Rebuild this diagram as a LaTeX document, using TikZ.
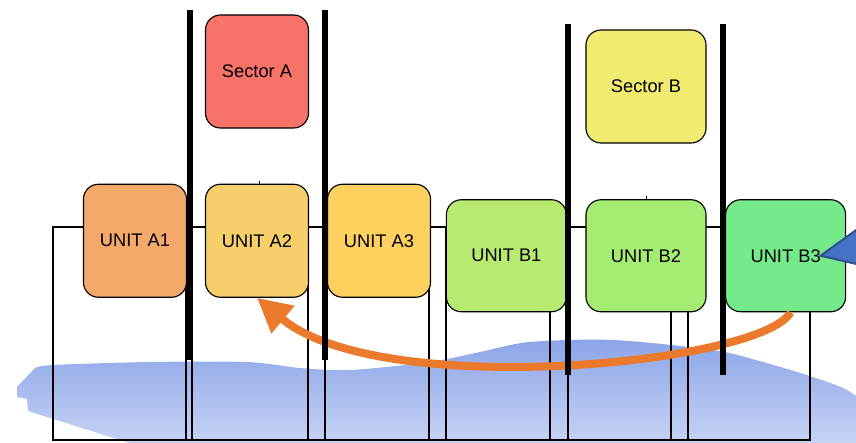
\documentclass[tikz,border=0pt]{standalone}
\usepackage{fontspec}
\setmainfont{Liberation Sans}
\usepackage{tikz}
\usepackage{xcolor}
\usetikzlibrary{arrows.meta}
\usetikzlibrary{calc}

\definecolor{sectorA}{RGB}{247,115,104}
\definecolor{sectorB}{RGB}{240,236,112}
\definecolor{unitA1}{RGB}{244,168,106}
\definecolor{unitA2}{RGB}{246,206,106}
\definecolor{unitA3}{RGB}{253,208,96}
\definecolor{unitB1}{RGB}{184,234,114}
\definecolor{unitB2}{RGB}{164,236,114}
\definecolor{unitB3}{RGB}{116,234,138}
\definecolor{transfer}{RGB}{236,122,44}
\definecolor{cloudtop}{RGB}{140,165,232}
\definecolor{cloudbottom}{RGB}{208,218,246}
\definecolor{calloutfill}{RGB}{68,114,196}
\definecolor{calloutedge}{RGB}{47,82,143}

\begin{document}
\begin{tikzpicture}[x = 0.025cm, y = -0.025cm, font = \fontsize{13pt}{15pt}\selectfont,
		box/.style = {draw, line width = 0.8pt, rounded corners = 0.375cm, inner sep = 0pt},
		boxA/.style = {box, minimum width = 2.575cm, minimum height = 2.825cm},
		boxB/.style = {box, minimum width = 3cm, minimum height = 2.8cm},
		column/.style = {line width = 0.9pt},
		divider/.style = {line width = 3.9pt},
		transferline/.style = {transfer, line width = 0.2cm, -{Triangle[length = 0.85cm, width = 0.85cm]}}]
		\useasboundingbox (0,0) rectangle (856,442);
		\clip (0,0) rectangle (856,442);

		\shade[top color = cloudtop, bottom color = cloudbottom] (28,411) -- (27,399) -- (17,397) -- (17,387)
			-- plot[smooth, tension = 0.5] coordinates {(35,368) (53,365) (150,362) (247,362) (300,368) (350,370) (430,362) (480,352) (530,342) (613,340) (713,350) (763,362) (813,377) (847,390) (875,410)}
			-- (875,460) -- (183,460) -- cycle;

		\draw[column] (53,227) rectangle (810,440);
		\foreach \x in {186,192,308,325,429,446,550,568,671,688}
			\draw[column] (\x,227) -- (\x,440);

		\node(SectorA)	[boxA, fill = sectorA]	at (257,71.5)	{Sector A};
		\node(UnitA2)	[boxA, fill = unitA2, below of = SectorA, node distance = 4.23cm]	{UNIT A2};
		\node(UnitA1)	[boxA, fill = unitA1, left of = UnitA2, node distance = 3.05cm]		{UNIT A1};
		\node(UnitA3)	[boxA, fill = unitA3, right of = UnitA2, node distance = 3.05cm]	{UNIT A3};

		\node(SectorB)	[boxB, fill = sectorB, minimum height = 2.825cm]	at (646,86.5)	{Sector B};
		\node(UnitB2)	[boxB, fill = unitB2, below of = SectorB, node distance = 4.23cm]	{UNIT B2};
		\node(UnitB1)	[boxB, fill = unitB1, left of = UnitB2, node distance = 3.49cm]		{UNIT B1};
		\node(UnitB3)	[boxB, fill = unitB3, right of = UnitB2, node distance = 3.49cm]	{UNIT B3};

		\draw[line width = 0.4pt] ($(UnitA2.north)+(2,0)$) -- +(0,-3);
		\draw[line width = 0.4pt] (UnitB2.north) -- +(0,-3);

		\coordinate(Callout) at ($(UnitB3.center)+(35,0)$);
		\draw[fill = calloutfill, draw = calloutedge, line width = 1.5pt] (Callout) -- (870,220) -- (870,267) -- cycle;

		\draw[transferline] ($(UnitB3.south)+(5,0)$) .. controls +(-30,52) and +(123,103) .. (UnitA2.south);

		\draw[divider] (190,10) -- (190,360);
		\draw[divider] (325,10) -- (325,360);
		\draw[divider] (568,24) -- (568,375);
		\draw[divider] (723,24) -- (723,375);
	\end{tikzpicture}
\end{document}
